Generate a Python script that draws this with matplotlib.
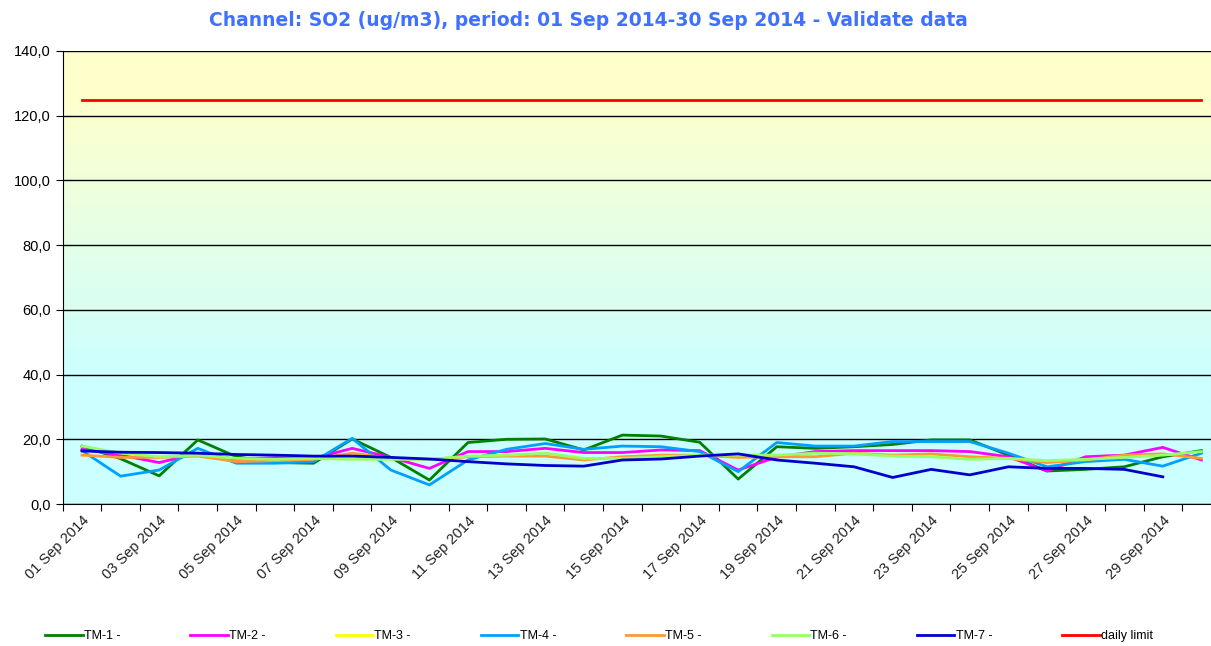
import matplotlib
matplotlib.use('Agg')
import matplotlib.pyplot as plt
import numpy as np
from matplotlib.colors import LinearSegmentedColormap

nan = np.nan

days = ['%02d Sep 2014' % d for d in range(1, 31)]

tm1 = [17.9, 14.0, 8.7, 19.8, 14.6, 12.8, 12.6, 20.1, 14.4, 7.4,
       19.0, 20.0, 20.1, 16.7, 21.3, 21.0, 19.1, 7.7, 17.7, 17.2,
       17.7, 18.4, 19.8, 19.8, 15.1, 10.2, 10.7, 11.5, 14.6, 16.5]
tm2 = [16.9, 15.1, 12.8, 15.7, 13.8, 14.3, 14.1, 17.2, 14.4, 11.0,
       16.2, 16.2, 17.2, 15.9, 15.9, 16.7, 16.5, 10.5, 14.5, 16.2,
       16.5, 16.5, 16.5, 16.2, 14.6, 10.2, 14.6, 15.1, 17.5, 13.6]
tm3 = [nan] * 30
tm4 = [16.5, 8.6, 10.5, 17.2, 12.6, 12.6, 13.1, 20.3, 10.5, 5.9,
       13.6, 16.9, 18.7, 16.9, 17.9, 17.7, 16.2, 10.0, 19.0, 17.9,
       17.9, 19.3, 19.3, 19.3, 15.7, 11.5, 13.1, 13.8, 11.7, 15.7]
tm5 = [15.1, 14.4, 14.4, 14.8, 13.1, 13.4, 13.8, 15.7, 14.1, 13.8,
       14.6, 14.8, 14.8, 13.6, 14.6, 15.1, 15.1, 14.4, 14.6, 14.6,
       15.7, 15.1, 15.5, 14.6, 14.1, 12.8, 13.6, 15.1, 15.5, 14.1]
tm6 = [17.9, 15.7, 14.6, 15.1, 14.1, 13.8, 14.1, 13.8, 13.8, 13.8,
       14.8, 15.1, 15.7, 14.1, 14.1, 14.6, 15.1, 15.1, 15.1, 15.7,
       15.5, 14.8, 14.6, 13.8, 14.1, 13.4, 13.8, 14.4, 15.1, 16.2]
tm7 = [16.4, 16.0, 15.9, 15.7, 15.3, 15.1, 14.8, 14.8, 14.4, 13.9,
       13.1, 12.4, 11.9, 11.7, 13.6, 13.9, 14.8, 15.5, 13.6, 12.6,
       11.5, 8.2, 10.7, 9.0, 11.5, 11.0, 11.0, 10.7, 8.4, nan]
daily_limit = [125.0] * 30

series = [('TM-1 -', tm1, '#008000'),
          ('TM-2 -', tm2, '#FF00FF'),
          ('TM-3 -', tm3, '#FFFF00'),
          ('TM-4 -', tm4, '#00A0FF'),
          ('TM-5 -', tm5, '#FF9933'),
          ('TM-6 -', tm6, '#99FF66'),
          ('TM-7 -', tm7, '#0000CC'),
          ('daily limit', daily_limit, '#FF0000')]

fig = plt.figure(figsize=(12.11, 6.46), dpi=100)
ax = fig.add_axes([62.7 / 1211, 142 / 646, 1158 / 1211, 453 / 646])

# background: yellow on top fading to cyan at the bottom
bg = LinearSegmentedColormap.from_list(
    'bg', [(0, '#CCFFFF'), (40 / 140, '#CCFFFF'), (125 / 140, '#FFFFCC'), (1, '#FFFFCC')])
grad = np.linspace(0, 1, 300).reshape(-1, 1)
ax.imshow(grad, extent=[0.5, 30.5, 0, 140], origin='lower', aspect='auto', cmap=bg, zorder=0)

x = np.arange(1, 31)
handles = []
for name, vals, col in series:
    h, = ax.plot(x, vals, color=col, lw=2, label=name, zorder=3)
    handles.append(h)

ax.set_xlim(0.5, 30.5)
ax.set_ylim(0, 140)
yt = np.arange(0, 141, 20)
ax.set_yticks(yt)
ax.set_yticklabels([('%.1f' % v).replace('.', ',') for v in yt], fontsize=10.5, family='Liberation Sans')
ax.yaxis.grid(True, color='black', lw=1)
for ln in ax.get_ygridlines():
    ln.set_zorder(2)

ax.set_xticks(np.arange(0.5, 31, 1))
ax.set_xticklabels([])
ax.set_xticks(np.arange(1, 31, 2), minor=True)
ax.set_xticklabels(days[::2], minor=True, rotation=45, ha='right', rotation_mode='anchor',
                   fontsize=10.5, family='Liberation Sans', color='#222222')
ax.tick_params(axis='x', which='minor', length=0, pad=7)
ax.tick_params(axis='x', which='major', length=5, direction='out')
ax.tick_params(axis='y', length=5, direction='out')
ax.spines['top'].set_visible(False)
ax.spines['right'].set_visible(False)

fig.text(0.486, 0.968, 'Channel: SO2 (ug/m3), period: 01 Sep 2014-30 Sep 2014 - Validate data',
         ha='center', va='center', fontsize=13.5, fontweight='bold', color='#4070FF')

# legend: one entry every ~145 px along the bottom
for i, h in enumerate(handles):
    fig.legend(handles=[h], labels=[h.get_label()], loc='center left',
               bbox_to_anchor=((45 + 145.3 * i) / 1211, 10 / 646), frameon=False,
               handlelength=3.0, handletextpad=0.1, borderaxespad=0, borderpad=0,
               prop={'family': 'Liberation Sans', 'size': 9})

fig.savefig('out.png', dpi=100)
